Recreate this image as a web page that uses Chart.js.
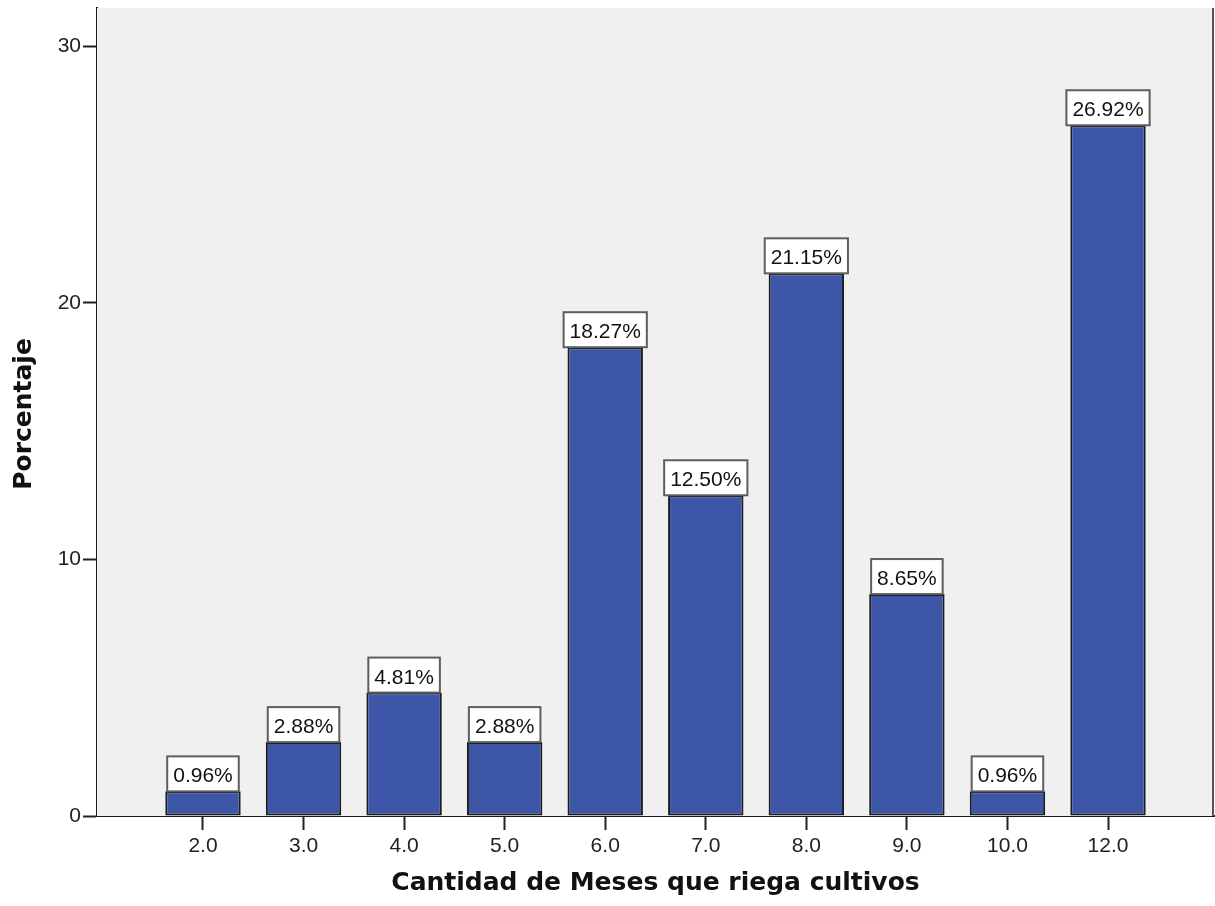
<!DOCTYPE html>
<html>
<head>
<meta charset="utf-8">
<title>Cantidad de Meses que riega cultivos</title>
<script src="https://cdn.jsdelivr.net/npm/chart.js@4.4.1/dist/chart.umd.min.js"></script>
<style>
  html, body { margin: 0; padding: 0; background: #ffffff; }
  #wrap { width: 1215px; height: 906px; }
</style>
</head>
<body>
<div id="wrap"><canvas id="chart" width="1215" height="906"></canvas></div>
<script>
// Months of irrigation per year and the share of respondents for each
const categories = ['2.0', '3.0', '4.0', '5.0', '6.0', '7.0', '8.0', '9.0', '10.0', '12.0'];
const percentages = [0.96, 2.88, 4.81, 2.88, 18.27, 12.50, 21.15, 8.65, 0.96, 26.92];
const yTicks = [0, 10, 20, 30];

const xTitle = 'Cantidad de Meses que riega cultivos';
const yTitle = 'Porcentaje';

const tickFont = { family: '"Liberation Sans", Arial, sans-serif', size: 21 };
const titleFont = 'bold 25px "DejaVu Sans", Verdana, sans-serif';
const labelFont = '21px "Liberation Sans", Arial, sans-serif';

// Grey plot background, right frame line, axis titles and value boxes
const decorations = {
  id: 'decorations',
  beforeDatasetsDraw(chart) {
    const { ctx, chartArea: a } = chart;
    ctx.save();
    ctx.fillStyle = '#f0f0f0';
    ctx.fillRect(a.left, a.top, a.right - a.left, a.bottom - a.top);
    ctx.restore();
  },
  afterDatasetsDraw(chart) {
    const { ctx } = chart;
    const meta = chart.getDatasetMeta(0);
    ctx.save();
    ctx.font = labelFont;
    ctx.textAlign = 'center';
    ctx.textBaseline = 'alphabetic';
    meta.data.forEach((bar, i) => {
      const text = percentages[i].toFixed(2) + '%';
      const w = ctx.measureText(text).width + 12;
      const h = 35;
      const x = bar.x;
      const bottom = bar.y;
      ctx.fillStyle = '#ffffff';
      ctx.fillRect(x - w / 2, bottom - h, w, h);
      ctx.strokeStyle = '#5e5e5e';
      ctx.lineWidth = 2;
      ctx.strokeRect(x - w / 2, bottom - h, w, h);
      ctx.fillStyle = '#111111';
      ctx.fillText(text, x, bottom - 9);
    });
    ctx.restore();
  },
  afterDraw(chart) {
    const { ctx, chartArea: a } = chart;
    ctx.save();
    ctx.strokeStyle = '#555555';
    ctx.lineWidth = 2;
    ctx.beginPath();
    ctx.moveTo(a.right - 1, a.top);
    ctx.lineTo(a.right - 1, a.bottom);
    ctx.stroke();

    ctx.fillStyle = '#111111';
    ctx.font = titleFont;
    ctx.textAlign = 'center';
    ctx.textBaseline = 'alphabetic';
    ctx.fillText(xTitle, (a.left + a.right) / 2, 890);

    ctx.translate(31, (a.top + a.bottom) / 2 + 2);
    ctx.rotate(-Math.PI / 2);
    ctx.fillText(yTitle, 0, 0);
    ctx.restore();
  }
};

new Chart(document.getElementById('chart'), {
  type: 'bar',
  data: {
    datasets: [{
      data: percentages.map((v, i) => ({ x: i, y: v })),
      backgroundColor: 'rgb(61, 86, 168)',
      borderColor: '#1c1c1c',
      borderWidth: 2,
      borderSkipped: false,
      barPercentage: 1,
      categoryPercentage: 0.75
    }]
  },
  options: {
    responsive: false,
    animation: false,
    events: [],
    layout: { padding: { top: 8, right: 1, left: 0, bottom: 0 } },
    plugins: {
      legend: { display: false },
      tooltip: { enabled: false },
      title: { display: false }
    },
    scales: {
      x: {
        type: 'linear',
        offset: false,
        min: -1.054,
        max: 10.054,
        afterBuildTicks(scale) {
          scale.ticks = categories.map((_, i) => ({ value: i }));
        },
        afterFit(scale) {
          scale.height = 90;
          scale.paddingLeft = 0;
          scale.paddingRight = 0;
        },
        ticks: {
          callback: (v) => categories[v],
          font: tickFont,
          color: '#222222',
          padding: 4,
          maxRotation: 0,
          autoSkip: false
        },
        grid: {
          display: true,
          offset: false,
          drawOnChartArea: false,
          drawTicks: true,
          tickLength: 14,
          tickColor: '#222222',
          tickWidth: 2
        },
        border: { display: true, color: '#1a1a1a', width: 2 }
      },
      y: {
        type: 'linear',
        min: 0,
        max: 31.49,
        afterBuildTicks(scale) {
          scale.ticks = yTicks.map(v => ({ value: v }));
        },
        afterFit(scale) {
          scale.width = 97;
          scale.paddingTop = 0;
          scale.paddingBottom = 0;
        },
        ticks: {
          font: tickFont,
          color: '#222222',
          padding: 2
        },
        grid: {
          display: true,
          drawOnChartArea: false,
          drawTicks: true,
          tickLength: 14,
          tickColor: '#222222',
          tickWidth: 2
        },
        border: { display: true, color: '#1a1a1a', width: 2 }
      }
    }
  },
  plugins: [decorations]
});
</script>
</body>
</html>
